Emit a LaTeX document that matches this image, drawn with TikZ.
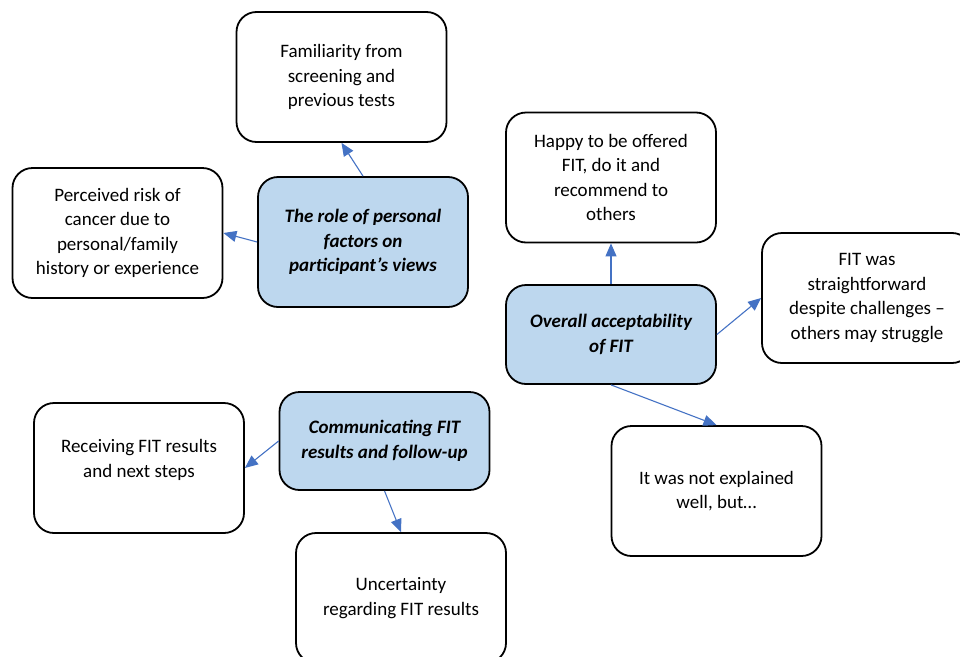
\documentclass[tikz,border=0pt]{standalone}
\usepackage{fontspec}
\setmainfont{Carlito}
\usetikzlibrary{arrows.meta}
\definecolor{themefill}{HTML}{BDD7EE}
\definecolor{arrowblue}{HTML}{4472C4}
\tikzset{
  box/.style={draw=black, line width=1.8pt, rounded corners=20pt, fill=white,
    minimum width=210pt, minimum height=130pt, align=center, inner sep=0pt,
    font=\fontsize{19}{24.5}\selectfont},
  theme/.style={box, fill=themefill, font=\fontsize{19}{24.5}\selectfont\bfseries\itshape},
  boxtext/.style={align=center, inner sep=0pt, font=\fontsize{19}{24.5}\selectfont},
  link/.style={draw=arrowblue, line width=1.1pt, -{Triangle[length=13pt,width=11pt]}}
}
\begin{document}
\begin{tikzpicture}[x=1pt,y=-1pt]
\useasboundingbox (0,0) rectangle (960,656);
% theme nodes
\node[theme] (role) at (363,242) {The role of personal\\factors on\\participant’s views};
\node[theme, minimum height=99pt] (overall) at (611,334.5) {Overall acceptability\\of FIT};
\node[theme, minimum height=98pt] (comm) at (384.5,441) {Communicating FIT\\results and follow-up};
% sub-theme nodes
\node[box] (fam) at (341.5,77) {Familiarity from\\screening and\\previous tests};
\node[box] (risk) at (117.5,233) {Perceived risk of\\cancer due to\\personal/family\\history or experience};
\node[box] (happy) at (611,177.5) {Happy to be offered\\FIT, do it and\\recommend to\\others};
\node[box] (fit) at (867,298) {FIT was\\straightforward\\despite challenges –\\others may struggle};
\node[box] (expl) at (716.5,491) {It was not explained\\well, but…};
\node[box] (recv) at (139,468) {};
\node[boxtext] (recvtext) at (139,460) {Receiving FIT results\\and next steps};
\node[box] (unc) at (401,598) {Uncertainty\\regarding FIT results};
% connectors
\draw[link] (role.north) -- (fam.south);
\draw[link] (role.west) -- (risk.east);
\draw[link] (overall.north) -- (happy.south);
\draw[link] (overall.east) -- (fit.west);
\draw[link] (overall.south) -- (expl.north);
\draw[link] (comm.west) -- (recv.east);
\draw[link] (comm.south) -- (unc.north);
\end{tikzpicture}
\end{document}
